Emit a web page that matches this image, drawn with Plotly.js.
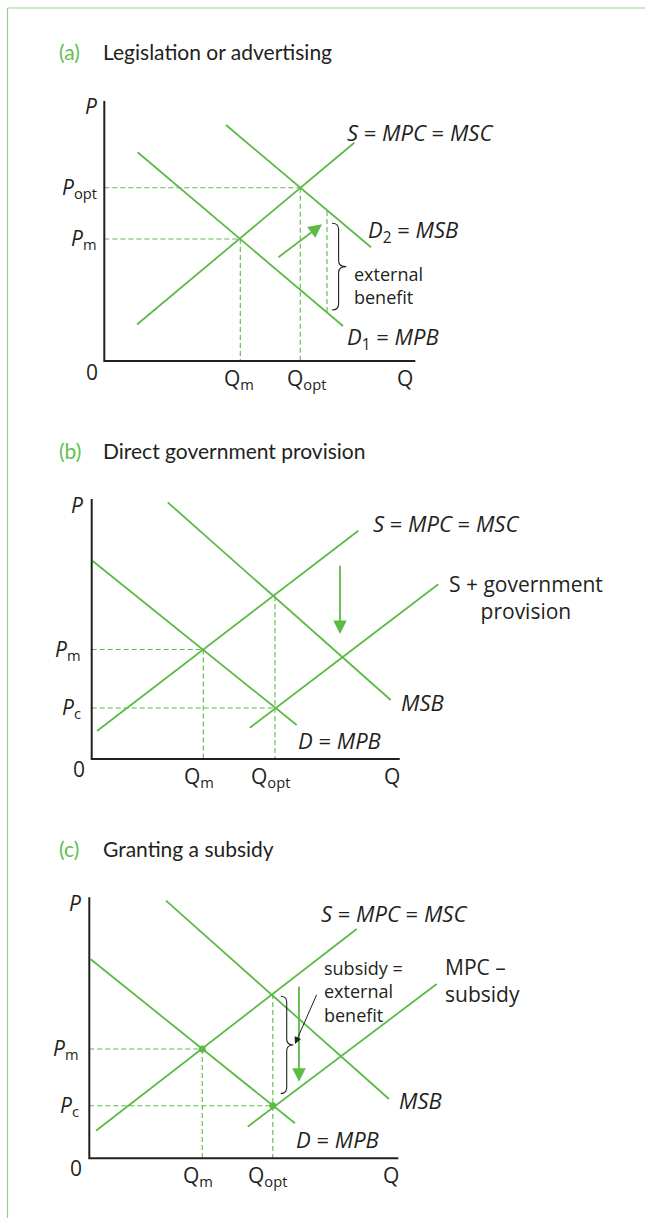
<!DOCTYPE html>
<html>
<head>
<meta charset="utf-8">
<script src="https://cdn.plot.ly/plotly-3.0.1.min.js"></script>
<style>
  html, body { margin: 0; padding: 0; background: #fff; }
  #chart { width: 645px; height: 1218px; }
</style>
</head>
<body>
<div id="chart"></div>
<script>
// ---- panel (a): legislation or advertising ----
const aAxisQ = 31.1, aAxisP = 26;
const aSupplyQ = [3.27, 25.0], aSupplyP = [3.65, 21.82];
const aD1Q = [3.33, 23.87], aD1P = [20.87, 3.5];
const aD2Q = [12.17, 26.67], aD2P = [23.6, 11.37];
const aQm = 13.6, aPm = 12.2;
const aQopt = 19.6, aPopt = 17.33;
const aExtQ = 22.27, aExtP = [4.9, 15.1];          // dashed gap between D1 and D2
const aArrowQ = [17.27, 21.77], aArrowP = [10.27, 13.67];
const aBraceP = [5.1, 13.77];

// ---- panel (b): direct government provision ----
const bAxisQ = 30.8, bAxisP = 26;
const bMsbQ = [7.6, 29.9], bMsbP = [25.67, 5.9];
const bDemQ = [0.1, 20.5], bDemP = [19.8, 3.4];
const bSupQ = [0.53, 26.66], bSupP = [2.8, 22.83];
const bGovQ = [15.83, 34.66], bGovP = [3.13, 17.47];
const bQm = 11.16, bPm = 10.95;
const bQopt = 18.33, bPopt = 16.3, bPc = 5.1;
const bArrowQ = 24.83, bArrowP = [19.47, 12.5];

// ---- panel (c): granting a subsidy ----
const cAxisQ = 30.9, cAxisP = 26.1;
const cMsbQ = [7.67, 29.97], cMsbP = [25.76, 5.93];
const cDemQ = [0.14, 20.57], cDemP = [19.9, 3.5];
const cSupQ = [0.67, 26.74], cSupP = [2.76, 22.93];
const cSubQ = [15.84, 34.74], cSubP = [3.16, 17.43];
const cQm = 11.3, cPm = 10.93;
const cQopt = 18.35, cPopt = 16.43, cPc = 5.26;
const cArrowQ = 20.97, cArrowP = [17.33, 7.66];
const cBraceP = [6.47, 16.2];
const cPointerQ = [22.8, 20.57], cPointerP = [16.5, 11.43];

const green = '#5bbb46';
const ink = '#231f20';
const W = 645, H = 1218, PX = 10;   // 10 px per unit on every panel

// where each panel's origin sits on the page
const panels = [
  { ox: 104.3, oy: 361,    top: 70,  bottom: 400 },
  { ox: 91.7,  oy: 759,    top: 470, bottom: 800 },
  { ox: 89.3,  oy: 1158.3, top: 870, bottom: 1212 },
];

const traces = [];
const annotations = [];
const shapes = [];

const xid = (n) => 'x' + (n === 1 ? '' : n);
const yid = (n) => 'y' + (n === 1 ? '' : n);

function line(ax, x, y, opts) {
  traces.push(Object.assign({
    x: x, y: y, xaxis: xid(ax), yaxis: yid(ax),
    type: 'scatter', mode: 'lines', hoverinfo: 'skip',
    line: { color: green, width: 1.8 },
  }, opts || {}));
}

function dashed(ax, x, y) {
  line(ax, x, y, { line: { color: green, width: 1.1, dash: '5px,3px' } });
}

function axes(ax, qmax, pmax) {
  line(ax, [0, 0, qmax], [pmax, 0, 0], { line: { color: ink, width: 2 } });
}

function label(ax, x, y, text, opts) {
  annotations.push(Object.assign({
    xref: xid(ax), yref: yid(ax), x: x, y: y, text: text,
    showarrow: false, xanchor: 'left', yanchor: 'middle', align: 'left',
    font: { family: 'Open Sans', size: 21, color: ink },
  }, opts || {}));
}

function arrow(ax, q, p, opts) {
  annotations.push(Object.assign({
    xref: xid(ax), yref: yid(ax), axref: xid(ax), ayref: yid(ax),
    x: q[1], y: p[1], ax: q[0], ay: p[0], text: '',
    showarrow: true, arrowhead: 2, arrowsize: 1.5, arrowwidth: 1.8,
    arrowcolor: green,
  }, opts || {}));
}

// curly brace opening to the right, spanning p[0]..p[1] at q
function brace(ax, qEnd, qSpine, qTip, p) {
  const lo = p[0], hi = p[1], mid = (lo + hi) / 2, r = 0.6;
  const path = `M ${qEnd},${hi} Q ${qSpine},${hi} ${qSpine},${hi - r} ` +
    `L ${qSpine},${mid + r} Q ${qSpine},${mid} ${qTip},${mid} ` +
    `Q ${qSpine},${mid} ${qSpine},${mid - r} L ${qSpine},${lo + r} ` +
    `Q ${qSpine},${lo} ${qEnd},${lo}`;
  shapes.push({ type: 'path', xref: xid(ax), yref: yid(ax), path: path,
    line: { color: ink, width: 1.1 } });
}

function title(py, tag, text) {
  annotations.push({ xref: 'paper', yref: 'paper', x: 57 / W, y: 1 - py / H,
    xanchor: 'left', yanchor: 'middle', showarrow: false, text: tag,
    font: { family: 'Lato', size: 21, color: '#62bf4c' } });
  annotations.push({ xref: 'paper', yref: 'paper', x: 101 / W, y: 1 - py / H,
    xanchor: 'left', yanchor: 'middle', showarrow: false, text: text,
    font: { family: 'Lato', size: 21, color: ink } });
}

const N = null;
const ital = { family: 'Open Sans', size: 22, color: ink };
const small = { family: 'Open Sans', size: 18, color: ink };

// ---------- (a) ----------
title(52, '(a)', 'Legislation or advertising');
dashed(1, [0, aQm, N, aQm, aQm, N, 0, aQopt, N, aQopt, aQopt, N, aExtQ, aExtQ],
          [aPm, aPm, N, aPm, 0, N, aPopt, aPopt, N, aPopt, 0, N, aExtP[0], aExtP[1]]);
line(1, aSupplyQ, aSupplyP);
line(1, aD1Q, aD1P);
line(1, aD2Q, aD2P);
axes(1, aAxisQ, aAxisP);
arrow(1, aArrowQ, aArrowP);
brace(1, 22.77, 23.43, 24.2, aBraceP);
label(1, 24.1, 22.9, '<i>S</i> = <i>MPC</i> = <i>MSC</i>', { font: ital });
label(1, 26.2, 13.0, '<i>D</i><sub>2</sub> = <i>MSB</i>', { font: ital });
label(1, 24.1, 2.3, '<i>D</i><sub>1</sub> = <i>MPB</i>', { font: ital });
label(1, 24.8, 7.6, 'external<br>benefit', { font: small });
label(1, -0.5, 25.5, '<i>P</i>', { xanchor: 'right' });
label(1, -0.5, aPopt, '<i>P</i><sub>opt</sub>', { xanchor: 'right' });
label(1, -0.5, aPm, '<i>P</i><sub>m</sub>', { xanchor: 'right' });
label(1, -1.2, -1.05, '0', { xanchor: 'center' });
label(1, aQm - 0.1, -0.1, 'Q<sub>m</sub>', { xanchor: 'center', yanchor: 'top' });
label(1, aQopt + 0.6, -0.1, 'Q<sub>opt</sub>', { xanchor: 'center', yanchor: 'top' });
label(1, 30.1, -0.1, 'Q', { xanchor: 'center', yanchor: 'top' });

// ---------- (b) ----------
title(450, '(b)', 'Direct government provision');
dashed(2, [0, bQm, N, bQm, bQm, N, 0, bQopt, N, bQopt, bQopt],
          [bPm, bPm, N, bPm, 0, N, bPc, bPc, N, bPopt, 0]);
line(2, bMsbQ, bMsbP);
line(2, bDemQ, bDemP);
line(2, bSupQ, bSupP);
line(2, bGovQ, bGovP);
axes(2, bAxisQ, bAxisP);
arrow(2, [bArrowQ, bArrowQ], bArrowP);
label(2, 27.9, 23.6, '<i>S</i> = <i>MPC</i> = <i>MSC</i>', { font: ital });
label(2, 43.4, 16.2, 'S + government<br>provision', { xanchor: 'center', align: 'center' });
label(2, 30.7, 5.7, '<i>MSB</i>', { font: ital });
label(2, 20.4, 1.9, '<i>D</i> = <i>MPB</i>', { font: ital });
label(2, -0.65, 25.4, '<i>P</i>', { xanchor: 'right' });
label(2, -0.85, bPm, '<i>P</i><sub>m</sub>', { xanchor: 'right' });
label(2, -0.85, bPc, '<i>P</i><sub>c</sub>', { xanchor: 'right' });
label(2, -1.3, -1.0, '0', { xanchor: 'center' });
label(2, bQm - 0.4, -0.1, 'Q<sub>m</sub>', { xanchor: 'center', yanchor: 'top' });
label(2, bQopt - 0.5, -0.1, 'Q<sub>opt</sub>', { xanchor: 'center', yanchor: 'top' });
label(2, 30.0, -0.1, 'Q', { xanchor: 'center', yanchor: 'top' });

// ---------- (c) ----------
title(848, '(c)', 'Granting a subsidy');
dashed(3, [0, cQm, N, cQm, cQm, N, 0, cQopt, N, cQopt, cQopt],
          [cPm, cPm, N, cPm, 0, N, cPc, cPc, N, cPopt, 0]);
line(3, cMsbQ, cMsbP);
line(3, cDemQ, cDemP);
line(3, cSupQ, cSupP);
line(3, cSubQ, cSubP);
axes(3, cAxisQ, cAxisP);
traces.push({ x: [cQm, cQopt], y: [cPm, cPc], xaxis: 'x3', yaxis: 'y3',
  type: 'scatter', mode: 'markers', hoverinfo: 'skip',
  marker: { color: green, size: 7 } });
arrow(3, [cArrowQ, cArrowQ], cArrowP);
brace(3, 19.14, 19.74, 20.4, cBraceP);
arrow(3, cPointerQ, cPointerP, { arrowcolor: ink, arrowwidth: 1, arrowsize: 1.4 });
label(3, 22.95, 24.5, '<i>S</i> = <i>MPC</i> = <i>MSC</i>', { font: ital });
label(3, 23.3, 16.7, 'subsidy =<br>external<br>benefit', { font: small });
label(3, 35.4, 17.8, 'MPC –<br>subsidy');
label(3, 30.8, 5.8, '<i>MSB</i>', { font: ital });
label(3, 20.5, 1.9, '<i>D</i> = <i>MPB</i>', { font: ital });
label(3, -0.65, 25.5, '<i>P</i>', { xanchor: 'right' });
label(3, -0.85, cPm, '<i>P</i><sub>m</sub>', { xanchor: 'right' });
label(3, -0.85, cPc, '<i>P</i><sub>c</sub>', { xanchor: 'right' });
label(3, -1.3, -1.0, '0', { xanchor: 'center' });
label(3, cQm - 0.4, -0.1, 'Q<sub>m</sub>', { xanchor: 'center', yanchor: 'top' });
label(3, cQopt - 0.5, -0.1, 'Q<sub>opt</sub>', { xanchor: 'center', yanchor: 'top' });
label(3, 30.2, -0.1, 'Q', { xanchor: 'center', yanchor: 'top' });

// thin green frame at top and left of the page
shapes.push({ type: 'line', xref: 'paper', yref: 'paper', x0: 7.5 / W, x1: 1, y0: 1 - 8 / H, y1: 1 - 8 / H,
  line: { color: '#97d38c', width: 1.2 } });
shapes.push({ type: 'line', xref: 'paper', yref: 'paper', x0: 7.5 / W, x1: 7.5 / W, y0: 0, y1: 1 - 8 / H,
  line: { color: '#97d38c', width: 1.2 } });

const layout = {
  width: W, height: H,
  margin: { l: 0, r: 0, t: 0, b: 0 },
  paper_bgcolor: '#fff', plot_bgcolor: 'rgba(0,0,0,0)',
  showlegend: false,
  annotations: annotations,
  shapes: shapes,
};

panels.forEach((p, i) => {
  const k = i === 0 ? '' : String(i + 1);
  layout['xaxis' + k] = {
    domain: [0, 1], range: [-p.ox / PX, (W - p.ox) / PX],
    visible: false, fixedrange: true, anchor: 'y' + k,
  };
  layout['yaxis' + k] = {
    domain: [1 - p.bottom / H, 1 - p.top / H],
    range: [(p.oy - p.bottom) / PX, (p.oy - p.top) / PX],
    visible: false, fixedrange: true, anchor: 'x' + k,
  };
});

Plotly.newPlot('chart', traces, layout, { displayModeBar: false, staticPlot: true });
</script>
</body>
</html>
